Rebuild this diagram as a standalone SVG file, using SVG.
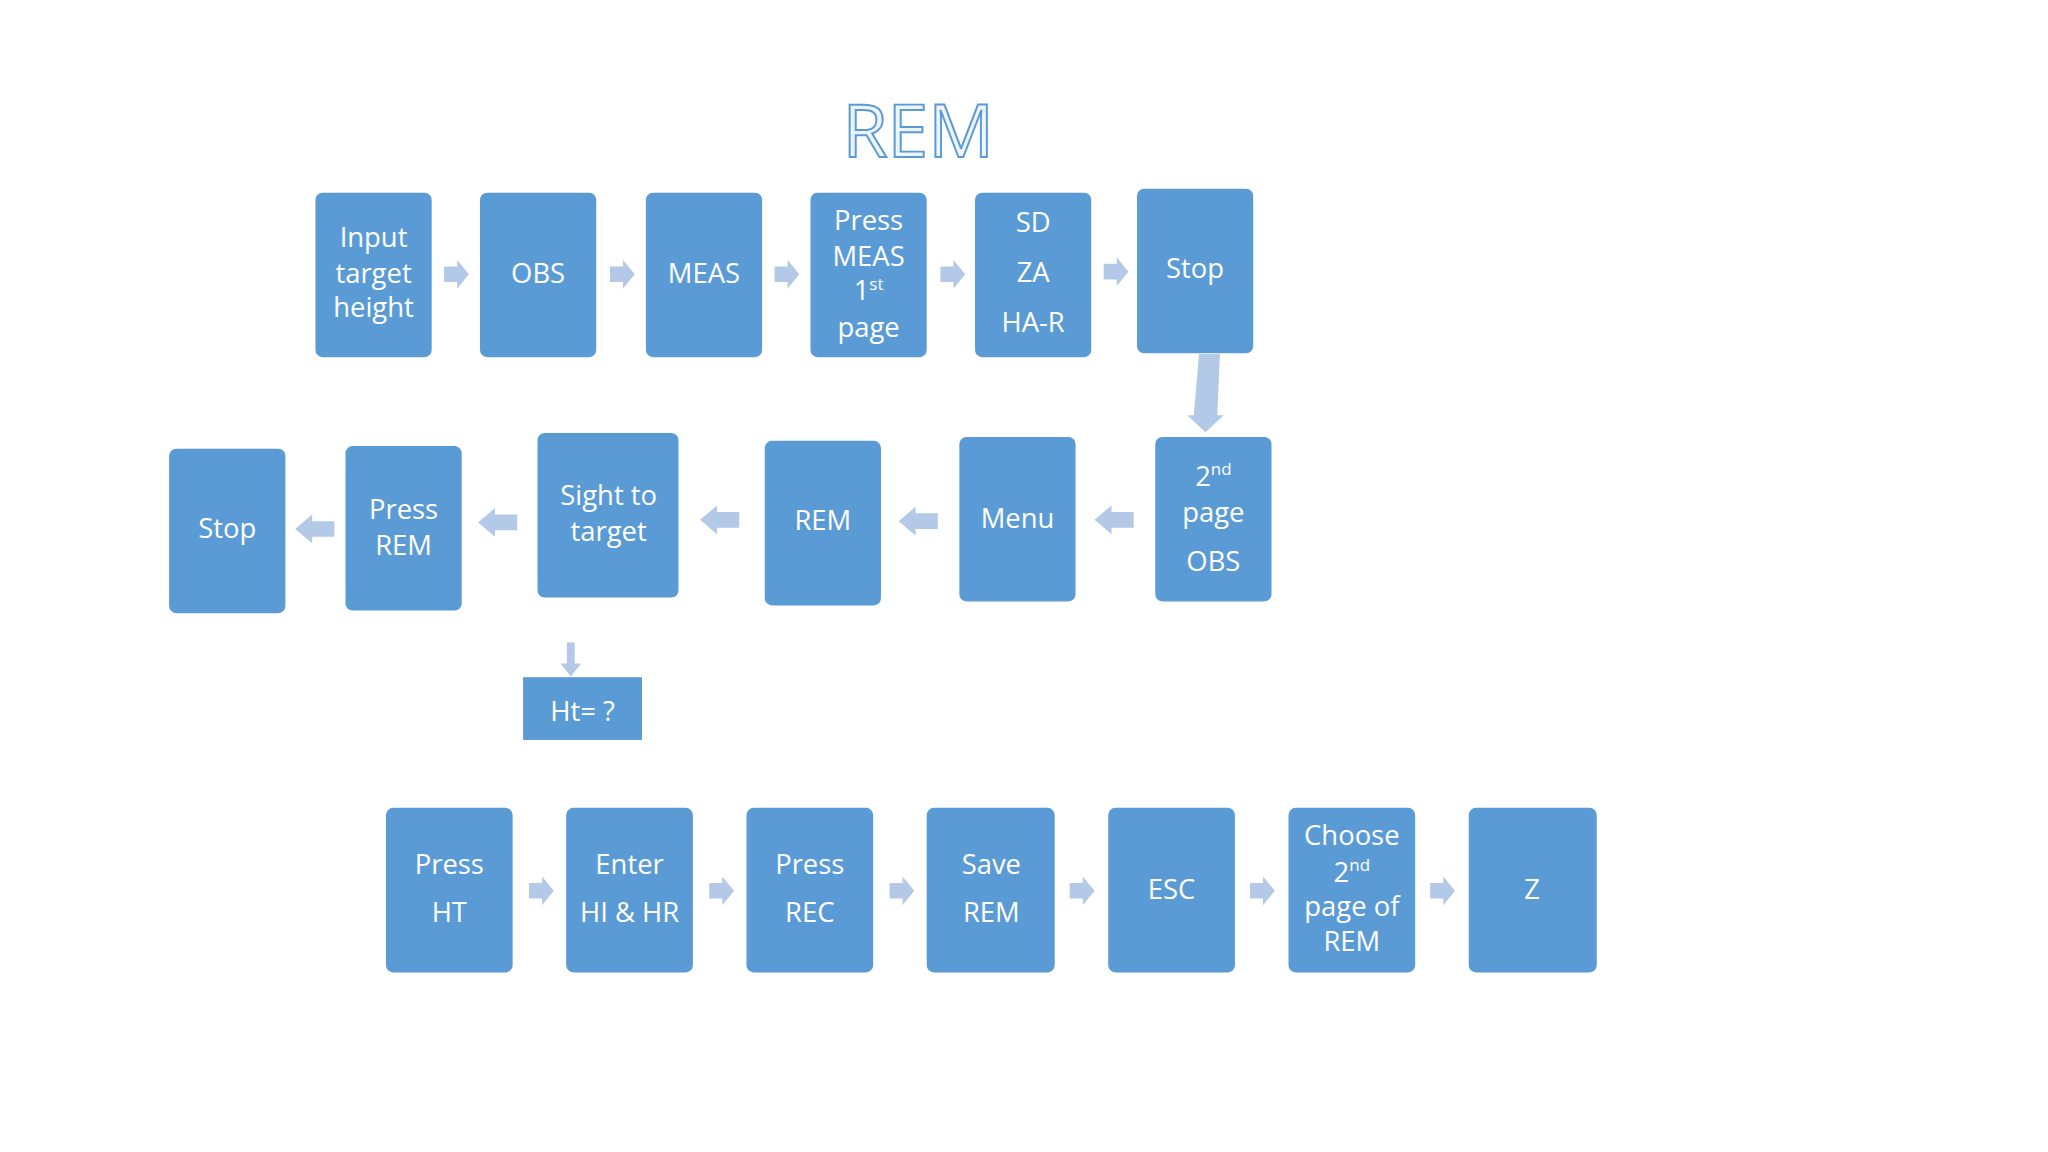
<svg xmlns="http://www.w3.org/2000/svg" width="2048" height="1152" viewBox="0 0 2048 1152">
<style>
.b{fill:#5b9bd5;stroke:#5b9bd5}
.t{font-family:"Open Sans","Liberation Sans",sans-serif;font-size:21px;fill:#fff;text-anchor:middle}
.a{fill:#b4c9e8}
</style>
<defs>
<path id="ar" d="M-9,-6 H1 V-11 L10,0 L1,11 V6 H-9 Z" class="a"/>
<path id="al" d="M14,-6 H-3 V-11 L-16,0 L-3,11 V6 H14 Z" class="a"/>
</defs>
<rect width="2048" height="1152" fill="#fff"/>
<g transform="scale(1.30612)">
<text x="703" y="120" font-family="Open Sans,Liberation Sans,sans-serif" font-size="56" text-anchor="middle" fill="#eef4fb" stroke="#5b9bd5" stroke-width="1.5">REM</text>
<g id="connectors">
<use href="#ar" x="349" y="210"/><use href="#ar" x="476" y="210"/><use href="#ar" x="602" y="210"/><use href="#ar" x="729" y="210"/><use href="#ar" x="854" y="208"/>
<path class="a" d="M918,271 H934 L932,318 H937 L923,331 L909,318 H914 Z"/>
<use href="#al" x="854" y="398"/><use href="#al" x="704" y="399"/><use href="#al" x="552" y="398"/><use href="#al" x="382" y="400"/><use href="#al" x="242" y="405"/>
<path class="a" d="M434,492 H440 V508 H445 L437,518 L429,508 H434 Z"/>
<use href="#ar" x="414" y="682"/><use href="#ar" x="552" y="682"/><use href="#ar" x="690" y="682"/><use href="#ar" x="828" y="682"/><use href="#ar" x="966" y="682"/><use href="#ar" x="1104" y="682"/>
</g>
<g id="n1"><rect class="b" x="242" y="148" width="88" height="125" rx="5"/><text class="t" x="286" y="189">Input</text><text class="t" x="286" y="217">target</text><text class="t" x="286" y="243">height</text></g>
<g id="n2"><rect class="b" x="368" y="148" width="88" height="125" rx="5"/><text class="t" x="412" y="217">OBS</text></g>
<g id="n3"><rect class="b" x="495" y="148" width="88" height="125" rx="5"/><text class="t" x="539" y="217">MEAS</text></g>
<g id="n4"><rect class="b" x="621" y="148" width="88" height="125" rx="5"/><text class="t" x="665" y="176">Press</text><text class="t" x="665" y="204">MEAS</text><text class="t" x="665" y="230">1<tspan font-size="13" dy="-8">st</tspan></text><text class="t" x="665" y="258">page</text></g>
<g id="n5"><rect class="b" x="747" y="148" width="88" height="125" rx="5"/><text class="t" x="791" y="178">SD</text><text class="t" x="791" y="216">ZA</text><text class="t" x="791" y="254">HA-R</text></g>
<g id="n6"><rect class="b" x="871" y="145" width="88" height="125" rx="5"/><text class="t" x="915" y="213">Stop</text></g>
<g id="n7"><rect class="b" x="885" y="335" width="88" height="125" rx="5"/><text class="t" x="929" y="372">2<tspan font-size="13" dy="-8">nd</tspan></text><text class="t" x="929" y="400">page</text><text class="t" x="929" y="437">OBS</text></g>
<g id="n8"><rect class="b" x="735" y="335" width="88" height="125" rx="5"/><text class="t" x="779" y="404">Menu</text></g>
<g id="n9"><rect class="b" x="586" y="338" width="88" height="125" rx="5"/><text class="t" x="630" y="406">REM</text></g>
<g id="n10"><rect class="b" x="412" y="332" width="107" height="125" rx="5"/><text class="t" x="466" y="387">Sight to</text><text class="t" x="466" y="414">target</text></g>
<g id="n11"><rect class="b" x="265" y="342" width="88" height="125" rx="5"/><text class="t" x="309" y="397">Press</text><text class="t" x="309" y="425">REM</text></g>
<g id="n12"><rect class="b" x="130" y="344" width="88" height="125" rx="5"/><text class="t" x="174" y="412">Stop</text></g>
<g id="n13"><rect class="b" x="401" y="519" width="90" height="47"/><text class="t" x="446" y="552" font-size="25">Ht= ?</text></g>
<g id="n14"><rect class="b" x="296" y="619" width="96" height="125" rx="5"/><text class="t" x="344" y="669">Press</text><text class="t" x="344" y="706">HT</text></g>
<g id="n15"><rect class="b" x="434" y="619" width="96" height="125" rx="5"/><text class="t" x="482" y="669">Enter</text><text class="t" x="482" y="706">HI &amp; HR</text></g>
<g id="n16"><rect class="b" x="572" y="619" width="96" height="125" rx="5"/><text class="t" x="620" y="669">Press</text><text class="t" x="620" y="706">REC</text></g>
<g id="n17"><rect class="b" x="710" y="619" width="97" height="125" rx="5"/><text class="t" x="759" y="669">Save</text><text class="t" x="759" y="706">REM</text></g>
<g id="n18"><rect class="b" x="849" y="619" width="96" height="125" rx="5"/><text class="t" x="897" y="688">ESC</text></g>
<g id="n19"><rect class="b" x="987" y="619" width="96" height="125" rx="5"/><text class="t" x="1035" y="647">Choose</text><text class="t" x="1035" y="675">2<tspan font-size="13" dy="-8">nd</tspan></text><text class="t" x="1035" y="701">page of</text><text class="t" x="1035" y="728">REM</text></g>
<g id="n20"><rect class="b" x="1125" y="619" width="97" height="125" rx="5"/><text class="t" x="1173" y="688">Z</text></g>
</g>
</svg>
